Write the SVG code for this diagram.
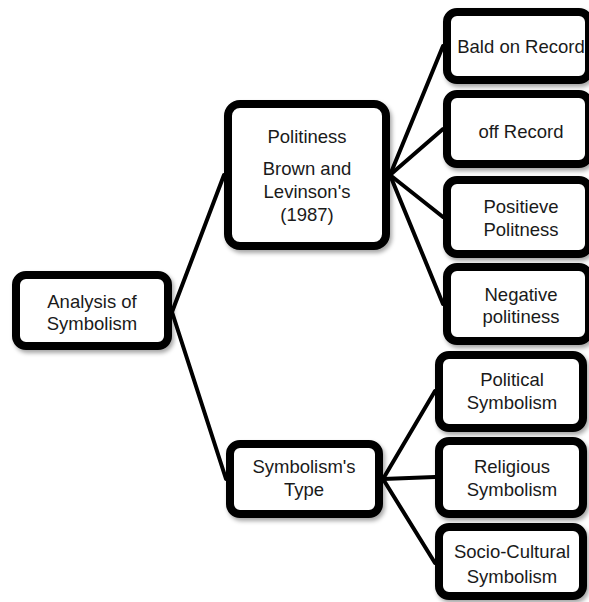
<svg xmlns="http://www.w3.org/2000/svg" width="589" height="602" viewBox="0 0 589 602">
<defs>
<filter id="sh" x="-10%" y="-10%" width="130%" height="140%">
<feDropShadow dx="2" dy="3" stdDeviation="2" flood-color="#000" flood-opacity="0.35"/>
</filter>
</defs>
<style>
.box{fill:#fff;stroke:#000;stroke-width:8;filter:url(#sh)}
.t{font-family:"Liberation Sans",Arial,sans-serif;font-size:18.5px;fill:#1a1a1a;text-anchor:middle}
.c{stroke:#000;stroke-width:4;fill:none;stroke-linecap:round}
</style>
<rect width="589" height="602" fill="#fff"/>
<g id="connectors">
<line class="c" x1="172" y1="312" x2="224" y2="175"/>
<line class="c" x1="172" y1="312" x2="226" y2="479"/>
<line class="c" x1="390" y1="175" x2="443" y2="46"/>
<line class="c" x1="390" y1="175" x2="443" y2="129"/>
<line class="c" x1="390" y1="175" x2="443" y2="217"/>
<line class="c" x1="390" y1="175" x2="443" y2="304"/>
<line class="c" x1="383" y1="479" x2="435" y2="391"/>
<line class="c" x1="383" y1="479" x2="435" y2="477"/>
<line class="c" x1="383" y1="479" x2="435" y2="563"/>
</g>
<g id="analysis">
<rect class="box" x="16" y="275" width="152" height="71" rx="10"/>
<text class="t" x="92" y="308">Analysis of</text>
<text class="t" x="92" y="330">Symbolism</text>
</g>
<g id="politiness">
<rect class="box" x="228" y="104" width="158" height="142" rx="12"/>
<text class="t" x="307" y="143">Politiness</text>
<text class="t" x="307" y="175">Brown and</text>
<text class="t" x="307" y="198">Levinson's</text>
<text class="t" x="307" y="221">(1987)</text>
</g>
<g id="symtype">
<rect class="box" x="230" y="444" width="149" height="70" rx="10"/>
<text class="t" x="304" y="473">Symbolism's</text>
<text class="t" x="304" y="496">Type</text>
</g>
<g id="bald">
<rect class="box" x="447" y="12" width="142" height="68" rx="10"/>
<text class="t" x="521" y="53">Bald on Record</text>
</g>
<g id="offrecord">
<rect class="box" x="447" y="94" width="142" height="70" rx="10"/>
<text class="t" x="521" y="138">off Record</text>
</g>
<g id="positive">
<rect class="box" x="447" y="180" width="142" height="74" rx="10"/>
<text class="t" x="521" y="213">Positieve</text>
<text class="t" x="521" y="236">Politness</text>
</g>
<g id="negative">
<rect class="box" x="447" y="267" width="142" height="74" rx="10"/>
<text class="t" x="521" y="301">Negative</text>
<text class="t" x="521" y="323">politiness</text>
</g>
<g id="political">
<rect class="box" x="439" y="355" width="144" height="73" rx="10"/>
<text class="t" x="512" y="386">Political</text>
<text class="t" x="512" y="409">Symbolism</text>
</g>
<g id="religious">
<rect class="box" x="439" y="441" width="144" height="73" rx="10"/>
<text class="t" x="512" y="473">Religious</text>
<text class="t" x="512" y="496">Symbolism</text>
</g>
<g id="sociocultural">
<rect class="box" x="439" y="527" width="144" height="69" rx="10"/>
<text class="t" x="512" y="558">Socio-Cultural</text>
<text class="t" x="512" y="583">Symbolism</text>
</g>
</svg>
